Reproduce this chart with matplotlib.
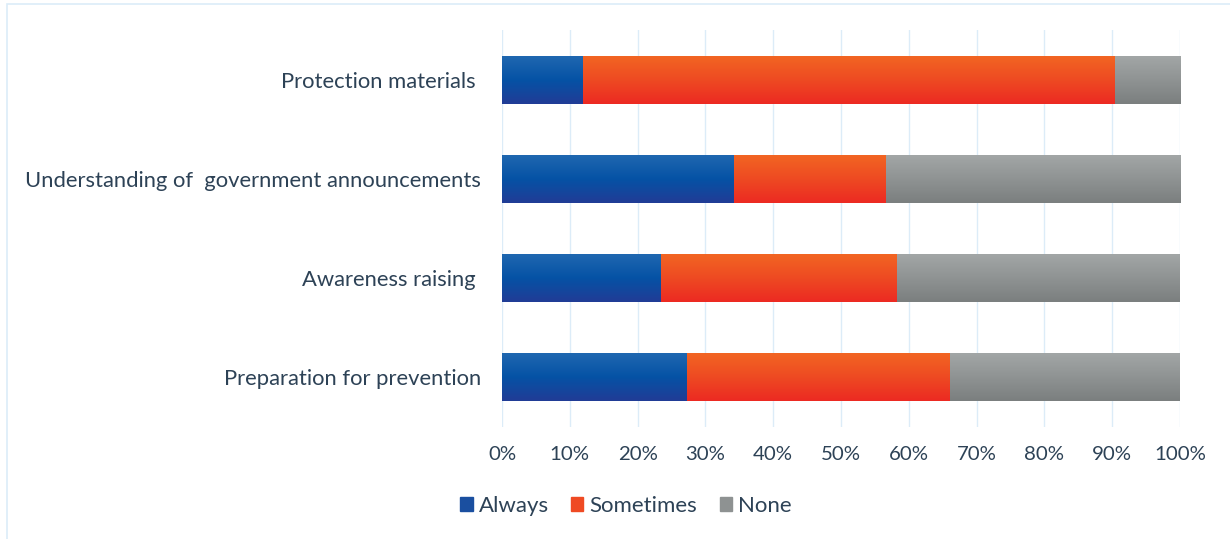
import numpy as np
import matplotlib
matplotlib.use("Agg")
import matplotlib.pyplot as plt
from matplotlib.colors import LinearSegmentedColormap
from matplotlib.patches import Rectangle

categories = ["Preparation for prevention", "Awareness raising ",
              "Understanding of  government announcements", "Protection materials "]
always = [27.3, 23.5, 34.2, 12.0]
sometimes = [38.8, 34.8, 22.4, 78.4]
none = [33.9, 41.7, 43.4, 9.6]
series_names = ["Always", "Sometimes", "None"]
ticks = list(range(0, 101, 10))
tick_labels = [f"{t}%" for t in ticks]

# gradient colours (top, middle, bottom) and legend colour
grads = {
    "Always": (["#1f67b0", "#0552a5", "#213c96"], "#1a4fa0"),
    "Sometimes": (["#f26522", "#ee4a23", "#ec2a22"], "#ef4a23"),
    "None": (["#a2a6a6", "#8f9393", "#7b7f7f"], "#8e9292"),
}
text_color = "#2d4256"
font = "Lato"

W, H = 1230, 539
fig = plt.figure(figsize=(W / 100, H / 100), dpi=100)
ax = fig.add_axes([502 / W, 1 - 426.5 / H, 678 / W, 396 / H])

y = np.arange(len(categories))
bar_h = 0.48
left = np.zeros(len(categories))
handles = []
for name, vals in zip(series_names, [always, sometimes, none]):
    stops, legc = grads[name]
    cmap = LinearSegmentedColormap.from_list(name, stops)
    bars = ax.barh(y, vals, left=left, height=bar_h, color=legc, edgecolor="none", zorder=2)
    grad = np.linspace(0, 1, 64).reshape(-1, 1)
    for b in bars:
        x0, y0 = b.get_x(), b.get_y()
        w, h = b.get_width(), b.get_height()
        im = ax.imshow(grad, cmap=cmap, aspect="auto", origin="upper",
                       extent=[x0, x0 + w, y0, y0 + h], zorder=3, interpolation="bilinear")
        im.set_clip_path(b)
    handles.append(Rectangle((0, 0), 1, 1, color=legc))
    left = left + np.array(vals)

ax.set_xlim(0, 100)
ax.set_ylim(-0.5, len(categories) - 0.5)
ax.set_xticks(ticks)
ax.set_xticklabels(tick_labels)
ax.set_yticks(y)
ax.set_yticklabels(categories)
ax.grid(axis="x", color="#dcecf8", linewidth=1.0, zorder=0)
ax.set_axisbelow(True)
for s in ax.spines.values():
    s.set_visible(False)
ax.tick_params(axis="both", length=0, labelcolor=text_color)
ax.tick_params(axis="x", pad=14, labelsize=14.7)
ax.tick_params(axis="y", pad=15, labelsize=15.8)
for lab in ax.get_xticklabels() + ax.get_yticklabels():
    lab.set_fontfamily(font)

leg = fig.legend(handles, series_names, loc="center", bbox_to_anchor=(626 / W, 1 - 506 / H),
                 ncol=3, frameon=False, handlelength=0.55, handleheight=0.55,
                 handletextpad=0.28, columnspacing=1.0,
                 prop={"family": font, "size": 16})
for t in leg.get_texts():
    t.set_color(text_color)

# outer chart border
fig.patches.append(Rectangle((7 / W, -0.05), 1.1, 1 - 4 / H + 0.05, transform=fig.transFigure,
                             fill=False, edgecolor="#dcecf8", linewidth=1.2))

fig.savefig("out.png", dpi=100)
